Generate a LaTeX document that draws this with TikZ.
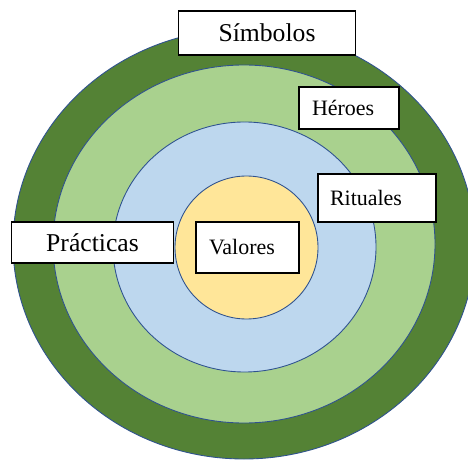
\documentclass[tikz,border=0pt]{standalone}
\usepackage{fontspec}
\setmainfont{Liberation Serif}
\newfontfamily\tagfont{Liberation Serif}
\usepackage{xcolor}
\usepackage{tikz}
\definecolor{deepgreen}{HTML}{548235}
\definecolor{palegreen}{HTML}{A9D18E}
\definecolor{paleblue}{HTML}{BDD7EE}
\definecolor{paleyellow}{HTML}{FFE699}
\definecolor{rim}{HTML}{2F528F}
\tikzset{
  layer/.style={line width=0.5pt, draw=rim},
  tag/.style={draw=black, line width=0.7pt, fill=white, inner ysep=0pt},
  big/.style={font=\tagfont\fontsize{14.6pt}{17pt}\selectfont},
  small/.style={font=\tagfont\fontsize{12.5pt}{15pt}\selectfont},
}

\begin{document}
\begin{tikzpicture}
  \clip (0,0) rectangle (9.36,9.18);
  \useasboundingbox (0,0) rectangle (9.36,9.18);
  \fill[white] (0,0) rectangle (9.36,9.18);

  \coordinate (C) at (4.88,4.30);    % common centre
  \coordinate (V) at (4.93,4.23);    % centre of the core

  % onion layers, outside in
  \draw[layer, fill=deepgreen]  (C) ellipse (4.62 and 4.30);
  \draw[layer, fill=palegreen]  (C) ellipse (3.82 and 3.58);
  \draw[layer, fill=paleblue]   (4.89,4.24) ellipse (2.63 and 2.50);
  \draw[layer, fill=paleyellow] (V) ellipse (1.43 and 1.43);

  % labels
  \node[tag, big, align=center, text width=3.3cm, minimum height=0.88cm]
    (simbolos) at (5.34,8.52) {Símbolos};
  \node[tag, small, align=left, inner xsep=0.26cm, text width=1.48cm, minimum height=0.84cm]
    (heroes) at (6.98,7.02) {Héroes};
  \node[tag, small, align=left, inner xsep=0.24cm, text width=1.88cm, minimum height=0.96cm]
    (rituales) at (7.54,5.22) {Rituales};
  \node[tag, big, align=center, text width=3.0cm, minimum height=0.82cm]
    (practicas) at (1.85,4.33) {Prácticas};
  \node[tag, small, align=left, inner xsep=0.26cm, text width=1.54cm, minimum height=1.02cm]
    (valores) at (4.95,4.23) {Valores};
\end{tikzpicture}
\end{document}
